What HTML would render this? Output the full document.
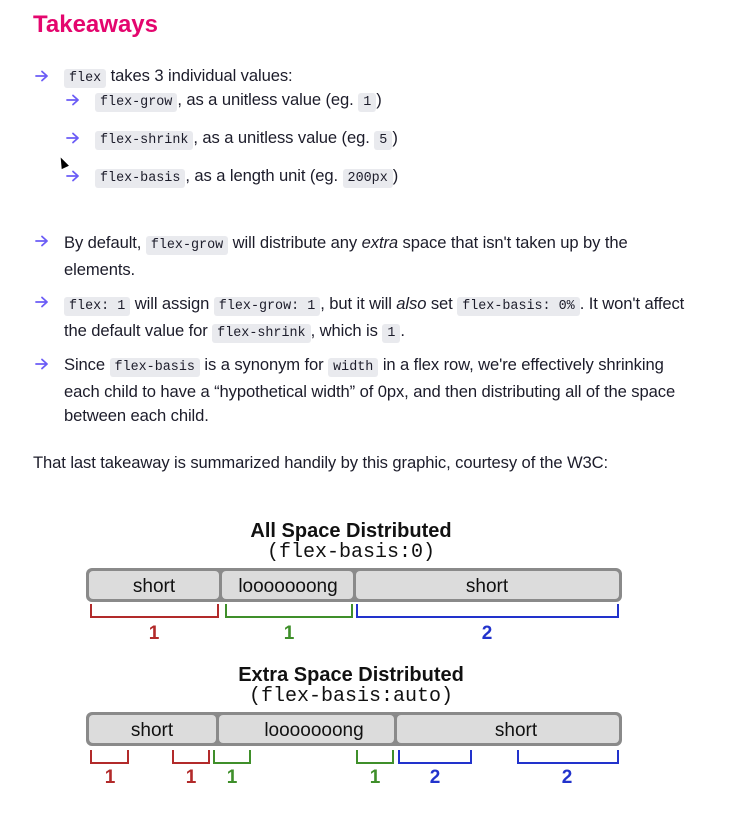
<!DOCTYPE html>
<html><head><meta charset="utf-8"><style>
body{margin:0;width:739px;height:837px;background:#fff;position:relative;font-family:"Liberation Sans",sans-serif;color:#1c1c2a;overflow:hidden}
.t{position:absolute;font-size:16.6px;white-space:nowrap;line-height:20px;letter-spacing:-0.1px}
.a{position:absolute;width:14px;height:12px}
code{font-family:"Liberation Mono",monospace;font-size:13.4px;background:#e9eaee;border-radius:3px;padding:2px 5px;letter-spacing:0}
h1{position:absolute;left:33px;top:11px;margin:0;font-size:24px;color:#e4066e;font-weight:bold}
</style></head><body>
<svg width="0" height="0" style="position:absolute"><defs><g id="ar"><path d="M1 6H12M7 1.5L12 6L7 10.5" fill="none" stroke="#6b5cf6" stroke-width="1.8" stroke-linecap="round" stroke-linejoin="round"/></g></defs></svg>
<h1>Takeaways</h1>
<svg class="a" style="left:35px;top:70px"><use href="#ar"/></svg><div class="t" style="left:64px;top:66px"><code>flex</code> takes 3 individual values:</div>
<svg class="a" style="left:66px;top:94px"><use href="#ar"/></svg><div class="t" style="left:95px;top:90px"><code>flex-grow</code>, as a unitless value (eg. <code>1</code>)</div>
<svg class="a" style="left:66px;top:132px"><use href="#ar"/></svg><div class="t" style="left:95px;top:128px"><code>flex-shrink</code>, as a unitless value (eg. <code>5</code>)</div>
<svg class="a" style="left:66px;top:170px"><use href="#ar"/></svg><div class="t" style="left:95px;top:166px"><code>flex-basis</code>, as a length unit (eg. <code>200px</code>)</div>
<div style="position:absolute;left:59px;top:157px;width:0;height:0;border-left:4px solid transparent;border-right:4px solid transparent;border-bottom:11px solid #000;transform:rotate(-25deg)"></div>

<svg class="a" style="left:35px;top:235px"><use href="#ar"/></svg>
<div class="t" style="left:64px;top:231px;line-height:24px">By default, <code>flex-grow</code> will distribute any <i>extra</i> space that isn't taken up by the<br>elements.</div>
<svg class="a" style="left:35px;top:296px"><use href="#ar"/></svg>
<div class="t" style="left:64px;top:292px;line-height:24px"><code>flex: 1</code> will assign <code>flex-grow: 1</code>, but it will <i>also</i> set <code>flex-basis: 0%</code>. It won't affect<br>the default value for <code>flex-shrink</code>, which is <code>1</code>.</div>
<svg class="a" style="left:35px;top:358px"><use href="#ar"/></svg>
<div class="t" style="left:64px;top:353px;line-height:24px">Since <code>flex-basis</code> is a synonym for <code>width</code> in a flex row, we're effectively shrinking<br>each child to have a “hypothetical width” of 0px, and then distributing all of the space<br>between each child.</div>
<div class="t" style="left:33px;top:453px">That last takeaway is summarized handily by this graphic, courtesy of the W3C:</div>

<svg style="position:absolute;left:0;top:0" width="739" height="837" font-family="Liberation Sans, sans-serif">
<g text-anchor="middle">
<text x="351" y="537" font-size="20" font-weight="bold" fill="#111">All Space Distributed</text>
<text x="351" y="557" font-size="20" font-family="Liberation Mono, monospace" fill="#111">(flex-basis:0)</text>
<rect x="86" y="568" width="536" height="34" rx="6" fill="#8a8a8a"/>
<rect x="89" y="571" width="130" height="28" rx="4" fill="#dcdcdc"/>
<rect x="222" y="571" width="131" height="28" rx="4" fill="#dcdcdc"/>
<rect x="356" y="571" width="263" height="28" rx="4" fill="#dcdcdc"/>
<g font-size="19" fill="#111"><text x="154" y="592">short</text><text x="288" y="592">looooooong</text><text x="487" y="592">short</text></g>
<g fill="none" stroke-width="2">
<path d="M91 604V617H218V604" stroke="#b22a2a"/>
<path d="M226 604V617H352V604" stroke="#3f8f2a"/>
<path d="M357 604V617H618V604" stroke="#2233cc"/>
</g>
<g font-size="19" font-weight="bold"><text x="154" y="639" fill="#b22a2a">1</text><text x="289" y="639" fill="#3f8f2a">1</text><text x="487" y="639" fill="#2233cc">2</text></g>

<text x="351" y="681" font-size="20" font-weight="bold" fill="#111">Extra Space Distributed</text>
<text x="351" y="701" font-size="20" font-family="Liberation Mono, monospace" fill="#111">(flex-basis:auto)</text>
<rect x="86" y="712" width="536" height="34" rx="6" fill="#8a8a8a"/>
<rect x="89" y="715" width="127" height="28" rx="4" fill="#dcdcdc"/>
<rect x="219" y="715" width="175" height="28" rx="4" fill="#dcdcdc"/>
<rect x="397" y="715" width="222" height="28" rx="4" fill="#dcdcdc"/>
<g font-size="19" fill="#111"><text x="152" y="736">short</text><text x="314" y="736">looooooong</text><text x="516" y="736">short</text></g>
<g fill="none" stroke-width="2">
<path d="M91 750V763H128V750M173 750V763H209V750" stroke="#b22a2a"/>
<path d="M214 750V763H250V750M357 750V763H393V750" stroke="#3f8f2a"/>
<path d="M399 750V763H471V750M518 750V763H618V750" stroke="#2233cc"/>
</g>
<g font-size="19" font-weight="bold"><text x="110" y="783" fill="#b22a2a">1</text><text x="191" y="783" fill="#b22a2a">1</text><text x="232" y="783" fill="#3f8f2a">1</text><text x="375" y="783" fill="#3f8f2a">1</text><text x="435" y="783" fill="#2233cc">2</text><text x="567" y="783" fill="#2233cc">2</text></g>
</g>
</svg>
</body></html>
